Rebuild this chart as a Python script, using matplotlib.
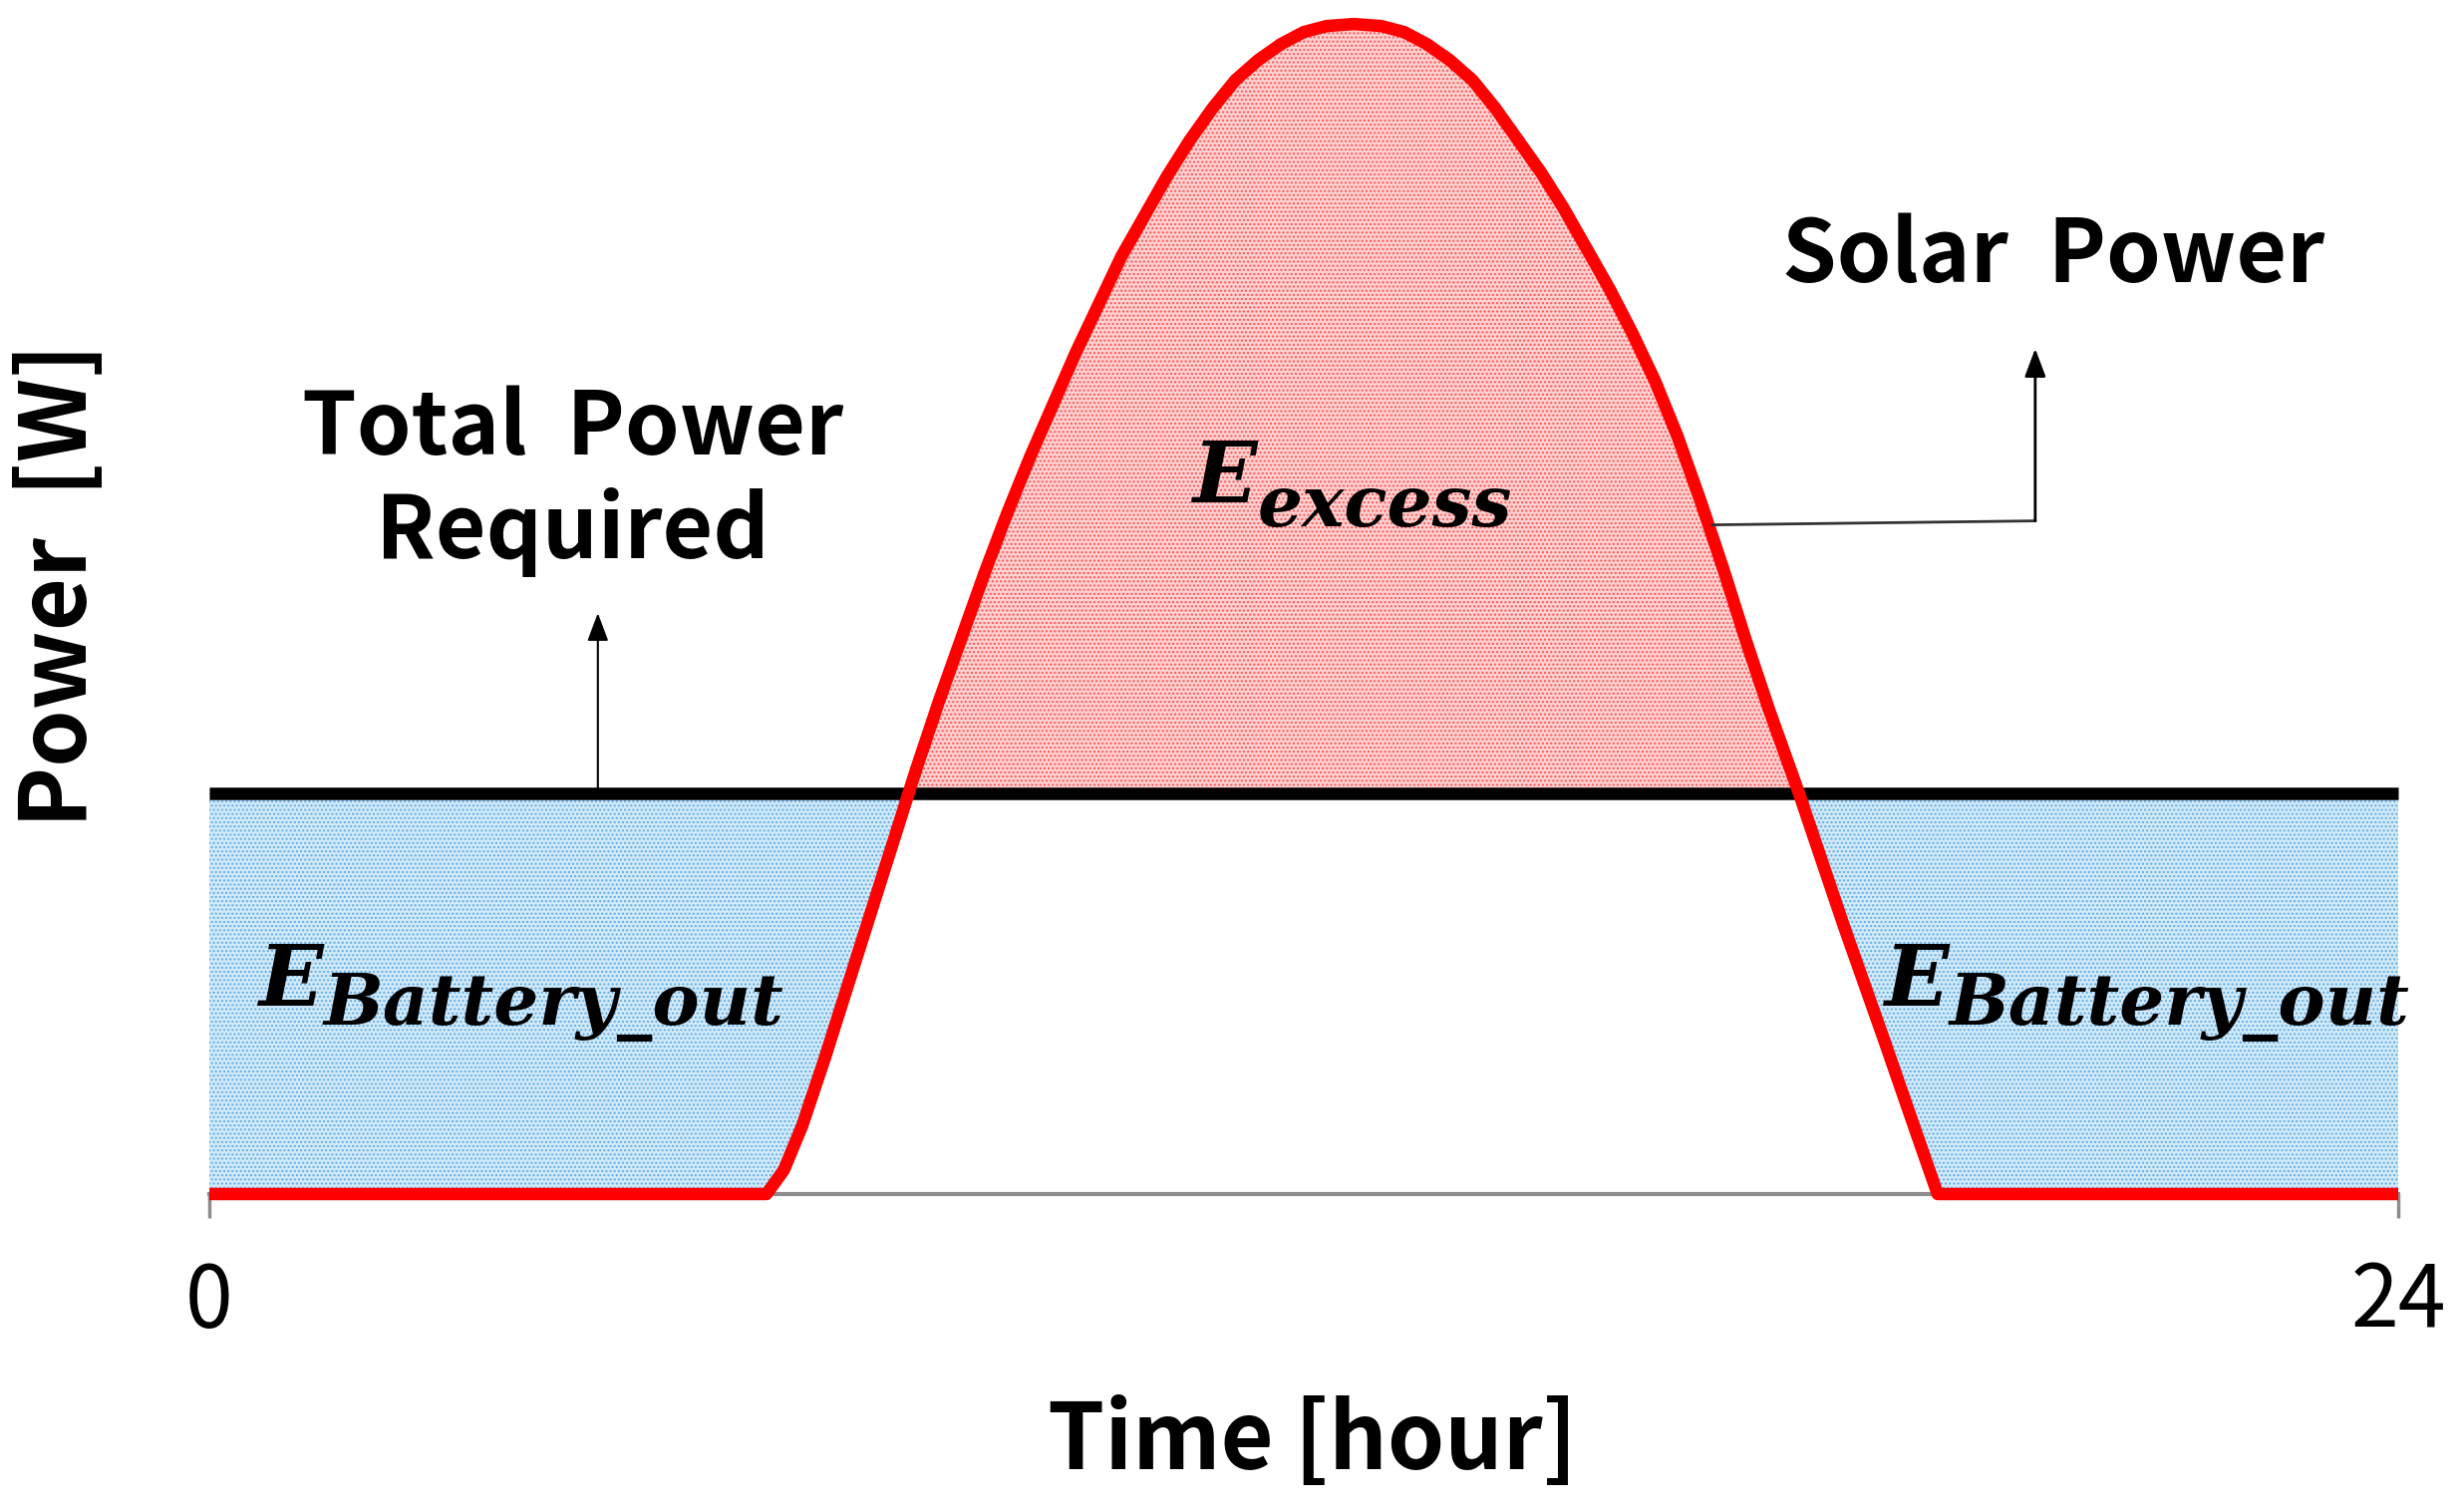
import numpy as np
import matplotlib
matplotlib.use("Agg")
import matplotlib.pyplot as plt

# values (hours, power with required = 100)
hours = [0, 6.11, 6.30, 6.50, 6.75, 7.00, 7.25, 7.50, 7.75, 8.00, 8.25,
         8.50, 8.75, 9.00, 9.25, 9.50, 9.75, 10.00, 10.25, 10.50, 10.75,
         11.00, 11.25, 11.50, 11.75, 12.00, 12.25, 12.55, 12.85, 13.10,
         13.35, 13.60, 13.85, 14.10, 14.35, 14.60, 14.85, 15.10, 15.35,
         15.60, 15.85, 16.10, 16.35, 16.60, 16.85, 17.10, 17.43, 17.92,
         18.37, 18.72, 18.95, 24]
solar_power = [0, 0, 6, 17, 34, 52, 70, 88, 106, 123, 139,
               155, 170, 184, 197, 210, 222, 234, 244, 254, 263,
               271, 278, 283, 287, 290, 291.5, 292, 291.5, 290,
               287, 283, 278, 271, 263, 255, 246, 236, 226,
               215, 203, 189, 173, 156, 138, 121, 100, 67,
               38, 15, 0, 0]
total_power = 100
x_ticks = [0, 24]
x_tick_labels = ["0", "24"]

plt.rcParams["font.family"] = ["Noto Sans CJK KR", "DejaVu Sans"]
plt.rcParams["hatch.linewidth"] = 1.0

fig = plt.figure(figsize=(24.71, 15.17), dpi=100)
ax = fig.add_axes([210 / 2471, 0.2103, 2196 / 2471, 0.7897])
ax.set_xlim(0, 24)
ax.set_ylim(0, 298)
for side in ["left", "right", "top", "bottom"]:
    ax.spines[side].set_visible(False)

t = np.array(hours)
s = np.array(solar_power, dtype=float)
req = np.full_like(s, total_power)

# battery discharge and excess areas
ax.fill_between(t, s, req, where=s <= req, interpolate=True,
                facecolor="#d2eafa", edgecolor="#5eabe6", hatch="....",
                linewidth=0, zorder=1)
ax.fill_between(t, s, req, where=s >= req, interpolate=True,
                facecolor="#ffd2d2", edgecolor="#ff5252", hatch="....",
                linewidth=0, zorder=1)

ax.plot([0, 24], [0, 0], color="#8c8c8c", lw=3, zorder=2, clip_on=False)
ax.plot([0, 24], [total_power, total_power], color="black", lw=9,
        solid_capstyle="butt", zorder=3, clip_on=False)
ax.plot(t, s, color="#ff0000", lw=9, solid_joinstyle="round",
        solid_capstyle="butt", zorder=4, clip_on=False)

ax.set_xticks(x_ticks)
ax.set_xticklabels(x_tick_labels, fontsize=62)
ax.tick_params(axis="x", length=17, width=2.5, color="#8c8c8c", pad=30)
ax.set_yticks([])

# annotations
ax.annotate("", xy=(4.26, 145), xytext=(4.26, total_power),
            arrowprops=dict(arrowstyle="-|>,head_length=0.4,head_width=0.15",
                            color="black", lw=1.5, mutation_scale=43,
                            shrinkA=0, shrinkB=0), zorder=5)
ax.text(3.98, 178, "Total  Power\nRequired", fontsize=63, fontweight="bold",
        ha="center", va="center", linespacing=1.2)

ax.plot([16.48, 20.02], [167, 168], color="#333333", lw=2, zorder=5)
ax.annotate("", xy=(20.02, 211), xytext=(20.02, 168),
            arrowprops=dict(arrowstyle="-|>,head_length=0.4,head_width=0.15",
                            color="black", lw=2, mutation_scale=43,
                            shrinkA=0, shrinkB=0), zorder=5)
ax.text(20.22, 234, "Solar  Power", fontsize=63, fontweight="bold",
        ha="center", va="center")

efont = dict(family="DejaVu Serif", style="italic", fontweight="bold")
ax.text(11.49, 172.6, "E", fontsize=61, ha="right", va="baseline", **efont)
ax.text(11.49, 166.7, "excess", fontsize=51, ha="left", va="baseline", **efont)
for ex in [1.25, 19.08]:
    ax.text(ex, 47.0, "E", fontsize=61, ha="right", va="baseline", **efont)
    ax.text(ex, 42.3, "Battery_out", fontsize=51, ha="left", va="baseline",
            **efont)

fig.text(0.0243, 0.613, "Power  [W]", fontsize=66, fontweight="bold",
         rotation=90, ha="center", va="center")
fig.text(0.533, 0.046, "Time [hour]", fontsize=66, fontweight="bold",
         ha="center", va="center")

fig.savefig("out.png", dpi=100)
